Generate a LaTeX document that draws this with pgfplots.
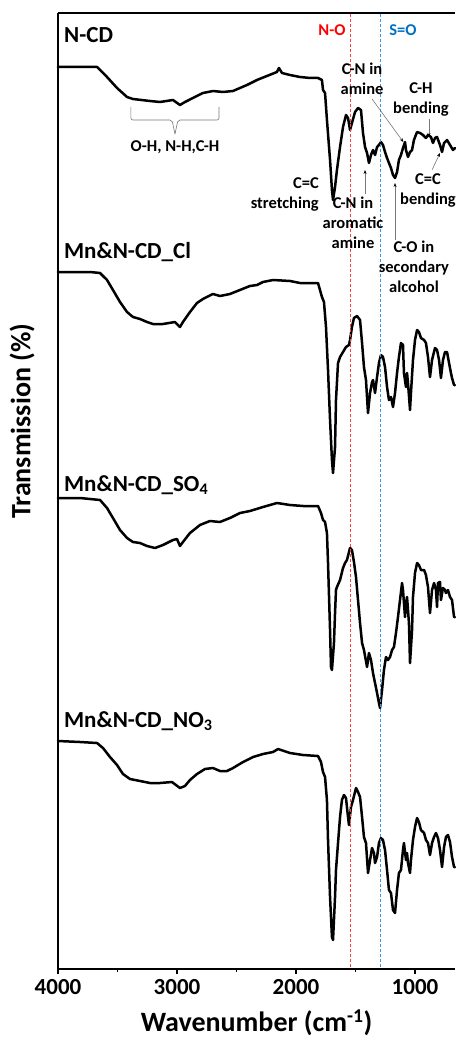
\documentclass[border=0pt]{standalone}
\usepackage{fontspec}
\setmainfont{Carlito}
\usepackage{pgfplots}
\pgfplotsset{compat=1.18}
\usetikzlibrary{arrows.meta}
\definecolor{nored}{RGB}{255,60,60}
\definecolor{sored}{RGB}{255,0,0}
\definecolor{soblue}{RGB}{60,150,220}
\definecolor{sotext}{RGB}{0,112,192}
\definecolor{anngray}{RGB}{120,120,120}
\pgfplotsset{spec/.style={black, mark=none, line width=2.5pt, line join=round, line cap=round}}
\begin{document}
\begin{tikzpicture}
\begin{axis}[
  scale only axis, width=397pt, height=956pt,
  x dir=reverse, y dir=reverse,
  xmin=664, xmax=4000, ymin=13, ymax=969,
  axis x line=box, axis y line=left,
  axis line style={-, line width=1.8pt},
  xtick={1000,2000,3000,4000}, minor x tick num=1,
  xtick pos=left, ytick=\empty,
  tick align=outside,
  major tick length=5pt, minor tick length=3pt,
  every tick/.style={black, line width=1.8pt},
  /pgf/number format/assume math mode=true,
  /pgf/number format/1000 sep={},
  xticklabel style={font=\bfseries\fontsize{23}{23}\selectfont, anchor=base, yshift=-20pt},
  xlabel={Wavenumber (cm\textsuperscript{-1})},
  xlabel style={font=\bfseries\fontsize{28}{28}\selectfont, at={(axis description cs:0.5,-0.0565)}, anchor=center},
  clip=false,
]
% N-CD
\addplot[spec] coordinates {(4000,67) (3672,67) (3588,77) (3504,88) (3420,97) (3370,99) (3227,101) (3143,102) (3034,100) (2975,105) (2933,102) (2866,98) (2782,93) (2698,91) (2614,92) (2530,91) (2412,85) (2328,80) (2244,76) (2160,72) (2143,68) (2118,73) (2050,75) (1966,77) (1882,78) (1815,78)
(1782,80) (1773,90) (1756,93) (1740,120) (1714,160) (1698,190) (1689,200) (1672,187) (1656,170) (1630,147) (1605,127) (1580,115) (1563,118) (1546,130) (1530,123) (1504,112) (1479,108) (1454,110) (1437,133) (1420,147) (1403,153) (1387,163) (1370,155) (1353,150) (1336,155) (1319,147) (1303,145) (1286,142) (1269,145) (1252,152) (1235,158) (1219,163) (1202,168) (1185,175) (1168,178) (1151,172) (1135,160) (1118,155) (1101,148) (1084,142) (1076,150) (1059,157) (1042,152) (1025,150) (1009,140) (983,132) (958,133) (933,135) (908,138) (891,135) (866,137) (849,143) (832,138) (815,137) (790,145) (773,152) (756,143) (731,140) (706,145) (681,150) (664,148)};
% Mn&N-CD_Cl
\addplot[spec] coordinates {(4000,272) (3731,272) (3647,273) (3588,280) (3538,290) (3479,302) (3420,312) (3370,317) (3311,319) (3252,322) (3202,324) (3118,324) (3017,322) (2975,327) (2950,322) (2891,312) (2832,303) (2782,299) (2698,294) (2639,296) (2555,294) (2471,290) (2387,286) (2328,285) (2277,282) (2193,280) (2050,281) (1966,283) (1882,283) (1815,283)
(1782,297) (1765,302) (1748,327) (1731,370) (1714,420) (1698,460) (1689,473) (1672,447) (1664,400) (1647,363) (1630,357) (1605,352) (1580,347) (1555,345) (1546,340) (1530,327) (1513,318) (1487,316) (1462,320) (1445,343) (1429,367) (1412,380) (1395,413) (1378,393) (1361,382) (1353,380) (1336,393) (1319,377) (1303,363) (1286,355) (1269,357) (1252,367) (1235,387) (1219,400) (1202,397) (1185,407) (1168,393) (1151,373) (1135,357) (1118,343) (1101,345) (1093,373) (1076,387) (1067,373) (1059,383) (1042,410) (1034,393) (1017,360) (1000,340) (983,330) (967,332) (950,338) (924,340) (908,343) (891,357) (874,377) (857,360) (832,348) (815,350) (798,360) (782,378) (765,360) (748,352) (731,352) (714,363) (698,373) (689,378) (672,385) (664,385)};
% Mn&N-CD_SO4
\addplot[spec] coordinates {(4000,498) (3815,498) (3647,500) (3588,508) (3538,518) (3479,530) (3420,538) (3370,542) (3311,543) (3252,546) (3185,548) (3118,545) (3034,540) (3000,539) (2975,546) (2950,542) (2891,533) (2807,525) (2723,521) (2639,522) (2555,518) (2471,513) (2387,511) (2277,507) (2160,503) (2050,505) (1941,506) (1815,506)
(1790,513) (1773,520) (1756,522) (1740,533) (1731,563) (1714,630) (1706,667) (1698,670) (1681,643) (1672,613) (1664,590) (1656,587) (1630,580) (1605,568) (1588,563) (1572,560) (1546,548) (1530,550) (1513,562) (1496,577) (1479,600) (1462,623) (1445,643) (1429,650) (1403,667) (1387,653) (1370,660) (1353,673) (1336,683) (1319,693) (1303,703) (1294,708) (1277,690) (1261,670) (1244,657) (1227,660) (1210,657) (1193,650) (1177,647) (1160,633) (1143,617) (1126,600) (1109,583) (1101,590) (1084,617) (1076,603) (1067,597) (1051,623) (1042,663) (1025,630) (1017,597) (1000,573) (983,563) (967,565) (950,570) (924,570) (908,575) (891,587) (874,613) (857,590) (840,583) (824,590) (815,607) (807,583) (790,582) (782,600) (765,588) (748,590) (740,593) (723,590) (706,597) (689,600) (672,617) (664,617)};
% Mn&N-CD_NO3
\addplot[spec] coordinates {(4000,741) (3815,742) (3672,743) (3622,748) (3563,757) (3504,765) (3454,774) (3395,779) (3311,781) (3227,783) (3143,783) (3042,782) (2975,788) (2933,786) (2891,780) (2832,774) (2765,769) (2698,768) (2639,771) (2580,771) (2529,768) (2445,762) (2361,757) (2277,754) (2193,752) (2151,749) (2050,753) (1941,755) (1815,756)
(1790,762) (1773,772) (1756,777) (1740,800) (1731,840) (1714,897) (1698,937) (1689,940) (1672,897) (1664,870) (1647,843) (1630,817) (1614,800) (1597,795) (1580,798) (1563,817) (1555,825) (1538,807) (1521,800) (1496,788) (1479,792) (1462,797) (1445,817) (1429,837) (1412,843) (1395,873) (1378,860) (1361,848) (1345,853) (1336,863) (1319,857) (1303,843) (1286,838) (1269,840) (1252,850) (1235,870) (1219,890) (1202,893) (1185,910) (1168,913) (1151,890) (1135,873) (1118,870) (1101,850) (1093,843) (1076,860) (1067,853) (1059,863) (1042,873) (1034,860) (1017,840) (1000,827) (983,818) (967,822) (950,830) (924,833) (908,840) (891,843) (874,855) (857,843) (840,837) (824,833) (807,838) (790,850) (773,867) (756,847) (740,837) (723,835) (706,842) (689,857) (672,867) (664,867)};
% dashed reference lines
\draw[nored, line width=0.8pt, dash pattern=on 3pt off 2pt] (axis cs:1540,14) -- (axis cs:1540,968);
\draw[soblue, line width=0.8pt, dash pattern=on 3pt off 2pt] (axis cs:1290,14) -- (axis cs:1290,968);
% sample labels
\begin{scope}[every node/.style={font=\bfseries\fontsize{23}{23}\selectfont, anchor=base west, inner sep=0pt}]
\node at (axis cs:3950,43) {N-CD};
\node at (axis cs:3950,259) {Mn\&N-CD\_Cl};
\node at (axis cs:3950,491) {Mn\&N-CD\_SO\textsubscript{4}};
\node at (axis cs:3950,727) {Mn\&N-CD\_NO\textsubscript{3}};
\end{scope}
% annotations
\begin{scope}[every node/.style={font=\bfseries\fontsize{16.5}{20}\selectfont, inner sep=0pt, align=center}]
\node[text=sored] at (axis cs:1698,30) {N-O};
\node[text=sotext] at (axis cs:1101,30) {S=O};
\node at (axis cs:1445,79) {C-N in\\amine};
\node at (axis cs:950,99) {C-H\\bending};
\node[align=right, anchor=east] at (axis cs:1807,194) {C=C\\stretching};
\node at (axis cs:1521,223) {C-N in\\aromatic\\amine};
\node at (axis cs:1009,267) {C-O in\\secondary\\alcohol};
\node at (axis cs:891,190) {C=C\\bending};
\node at (axis cs:3017,147) {O-H, N-H,C-H};
\end{scope}
\begin{scope}[anngray, line width=0.6pt, -{Stealth[length=4pt,width=3pt,black]}]
\draw (axis cs:883,119) -- (axis cs:883,137);
\draw (axis cs:857,170) -- (axis cs:790,153);
\draw (axis cs:1361,99) -- (axis cs:1098,142);
\draw (axis cs:1420,194) -- (axis cs:1420,170);
\draw (axis cs:1168,240) -- (axis cs:1168,183);
\end{scope}
\draw[anngray, line width=0.6pt, rounded corners=2pt] (axis cs:3387,107) -- (axis cs:3387,120) -- (axis cs:3042,120) -- (axis cs:3017,134);
\draw[anngray, line width=0.6pt, rounded corners=2pt] (axis cs:2647,107) -- (axis cs:2647,120) -- (axis cs:2992,120) -- (axis cs:3017,134);
% y label
\node[rotate=90, font=\bfseries\fontsize{28}{28}\selectfont] at (axis description cs:-0.0907,0.573) {Transmission (\%)};
\end{axis}
\pgfresetboundingbox
\path[use as bounding box] (-58pt,-71pt) rectangle (397pt,969pt);
\end{tikzpicture}
\end{document}
